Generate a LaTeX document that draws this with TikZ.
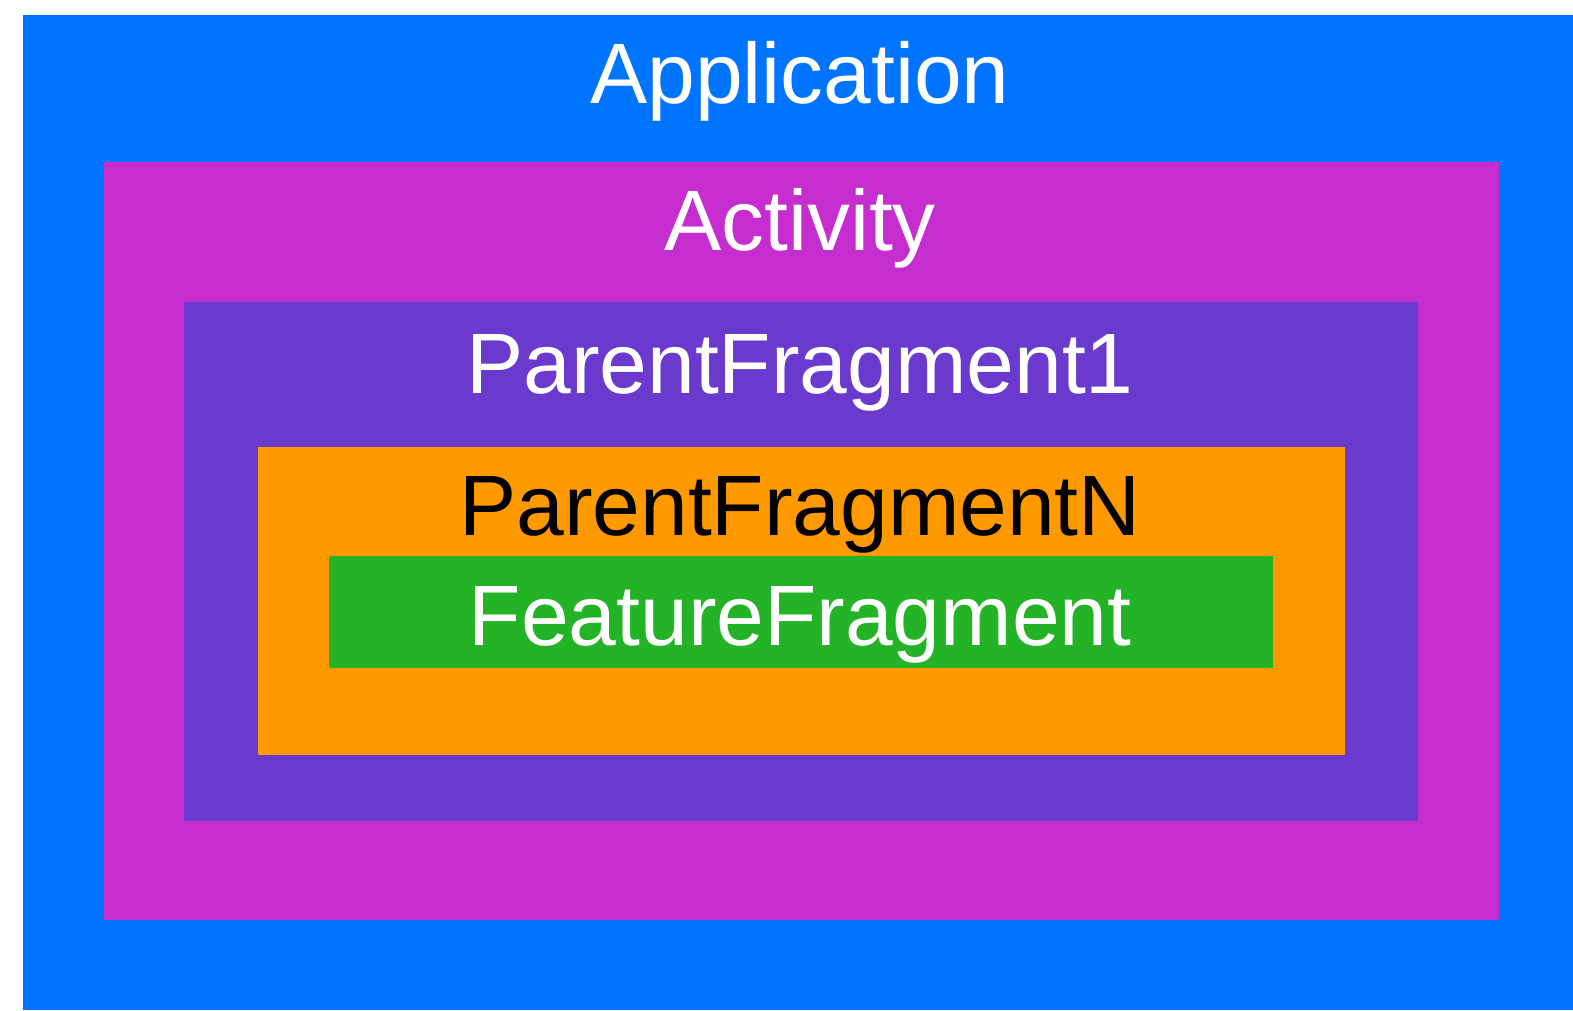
\documentclass[tikz,border=0pt]{standalone}
\usepackage{fontspec}
\setmainfont{Liberation Sans}
\usetikzlibrary{positioning}
\definecolor{AppBlue}{RGB}{0,116,255}
\definecolor{ActMagenta}{RGB}{198,45,206}
\definecolor{ParentPurple}{RGB}{106,58,206}
\definecolor{ParentOrange}{RGB}{255,153,0}
\definecolor{FeatureGreen}{RGB}{36,178,38}
\begin{document}
\begin{tikzpicture}[
    box/.style={draw=none,rectangle,inner sep=0pt,outer sep=0pt,anchor=south west},
    lbl/.style={font=\fontsize{24.4pt}{29pt}\selectfont,text=white,anchor=base,inner sep=0pt}
  ]
  \useasboundingbox (0,0) rectangle (15.73,10.10);
  % nested containers
  \node[box,fill=AppBlue,minimum width=15.50cm,minimum height=9.95cm] (app) at (0.23,0) {};
  \node[box,fill=ActMagenta,minimum width=13.95cm,minimum height=7.58cm] (act) at (1.04,0.90) {};
  \node[box,fill=ParentPurple,minimum width=12.34cm,minimum height=5.19cm] (pf1) at (1.84,1.89) {};
  \node[box,fill=ParentOrange,minimum width=10.87cm,minimum height=3.08cm] (pfn) at (2.58,2.55) {};
  \node[box,fill=FeatureGreen,minimum width=9.44cm,minimum height=1.12cm] (feat) at (3.29,3.42) {};
  % titles
  \node[lbl] (appT) at (8.0,9.06) {Application};
  \node[lbl] (actT) at (8.0,7.59) {Activity};
  \node[lbl] (pf1T) at (8.0,6.16) {ParentFragment1};
  \node[lbl,text=black] (pfnT) at (8.0,4.74) {ParentFragmentN};
  \node[lbl] (featT) at (8.0,3.64) {FeatureFragment};
\end{tikzpicture}
\end{document}
